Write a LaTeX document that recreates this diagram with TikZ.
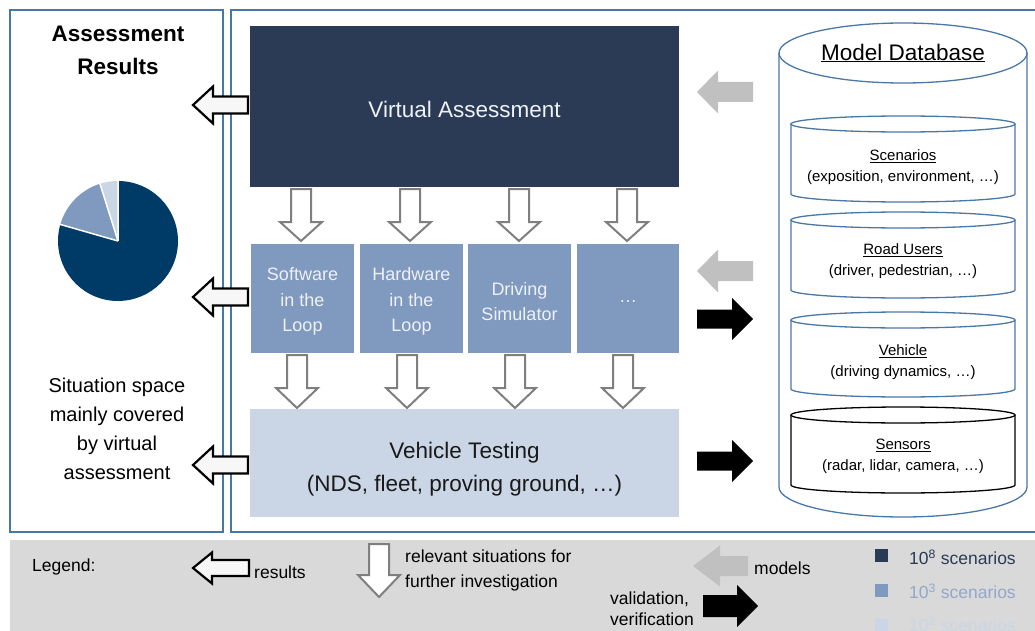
\documentclass[tikz,border=0pt]{standalone}
\usepackage{fontspec}
\setmainfont{Liberation Sans}
\usetikzlibrary{calc}

\definecolor{panelblue}{HTML}{4A78A6}
\definecolor{vadark}{HTML}{2B3B55}
\definecolor{midblue}{HTML}{7F99BF}
\definecolor{lightblue}{HTML}{CAD6E5}
\definecolor{piedark}{HTML}{003A66}
\definecolor{legendgray}{HTML}{D9D9D9}
\definecolor{modelgray}{HTML}{C0C0C0}
\definecolor{flowgray}{HTML}{7F7F7F}
\definecolor{boxtext}{HTML}{EEF1F6}

\newcommand{\fs}[2]{\fontsize{#1}{#2}\selectfont}

\tikzset{
  % block arrow drawn from its tail at (0,0) towards +x:
  % {length}{head length}{shaft width}{head width}
  pics/blockarrow/.style n args={4}{code={
    \path[pic actions] (0,{-#3/2}) -- ({#1-#2},{-#3/2}) -- ({#1-#2},{-#4/2})
      -- (#1,0) -- ({#1-#2},{#4/2}) -- ({#1-#2},{#3/2}) -- (0,{#3/2}) -- cycle;
  }},
  % cylinder: {x radius}{y radius}{distance between the ellipse centres}
  pics/drum/.style n args={3}{code={
    \path[pic actions] (-#1,0) -- (-#1,#3)
      arc[start angle=180, end angle=0, x radius=#1, y radius=#2] -- (#1,0);
    \path[pic actions] (0,0) ellipse[x radius=#1, y radius=#2];
  }},
  resultarrow/.style={draw=black, fill=white!97!black, line width=2.2pt, line join=miter},
  situationarrow/.style={draw=flowgray, fill=white, line width=2pt, line join=miter},
  modelarrow/.style={fill=modelgray},
  checkarrow/.style={fill=black},
  panel/.style={draw=panelblue, line width=1.3pt},
  stagebox/.style={rectangle, inner sep=0pt},
  stagelabel/.style={align=center, inner sep=0pt},
  smallbox/.style={stagebox, fill=midblue, minimum width=103pt, minimum height=109pt},
  boxlabel/.style={stagelabel, text=boxtext, font=\fs{18}{25.5}, yshift=-3pt},
  dbdrum/.style={draw=panelblue, line width=1.3pt},
  dblabel/.style={align=center, font=\fs{15}{21}},
  legendtext/.style={font=\fs{17.5}{25}, inner sep=0pt},
}

\begin{document}
\begin{tikzpicture}[x=1pt, y=-1pt]
\useasboundingbox (0,0) rectangle (1035,631);

% frames
\draw[panel] (10,10) rectangle (223,532);
\draw[panel] (1035,10) -| (231,532) -- (1035,532);
\fill[legendgray] (10,540) rectangle (1035,631);

% results column
\node[align=center, font=\bfseries\fs{22.5}{33}] (restitle) at (118,50.5) {Assessment\\Results};
\coordinate (pie) at (118,241);
\fill[piedark] (pie) -- ++(-164:60) arc[start angle=-164, end angle=-450, radius=60] -- cycle;
\fill[midblue] (pie) -- ++(-107.5:60) arc[start angle=-107.5, end angle=-164, radius=60] -- cycle;
\fill[lightblue] (pie) -- ++(-90:60) arc[start angle=-90, end angle=-107.5, radius=60] -- cycle;
\draw[white, line width=1.5pt] (pie) -- ++(-164:60.5) (pie) -- ++(-107.5:60.5) (pie) -- ++(-90:60.5);
\node[align=center, font=\fs{20}{29}] (restext) at (117,428.5)
  {Situation space\\mainly covered\\by virtual\\assessment};

% assessment stages
\node[stagebox, fill=vadark, minimum width=429pt, minimum height=161pt,
  label={[stagelabel, text=boxtext, font=\fs{22.5}{27}, yshift=-3pt]center:Virtual Assessment}]
  (va) at (464.5,106.5) {};
\node[smallbox, label={[boxlabel]center:{Software\\in the\\Loop}}] (sil) at (302.5,298.5) {};
\node[smallbox, label={[boxlabel]center:{Hardware\\in the\\Loop}}] (hil) at (411.5,298.5) {};
\node[smallbox, label={[boxlabel]center:{Driving\\Simulator}}] (sim) at (519.5,298.5) {};
\node[smallbox, minimum width=102pt, label={[boxlabel]center:{\dots}}] (etc) at (628,298.5) {};
\node[stagebox, fill=lightblue, minimum width=429pt, minimum height=108pt,
  label={[stagelabel, text=black!90, font=\fs{22.5}{33}, yshift=-6.5pt]center:{Vehicle Testing\\(NDS, fleet, proving ground, …)}}]
  (vt) at (464.5,463) {};

% relevant situations passed downwards
\foreach \x in {301,410,519,627}
  \pic[situationarrow, rotate=-90] at (\x,189) {blockarrow={52}{19}{20}{42}};
\foreach \x in {297,407,515,623}
  \pic[situationarrow, rotate=-90] at (\x,355) {blockarrow={53}{20}{20}{42}};

% results passed to the left column
\foreach \y in {105,297,465}
  \pic[resultarrow, rotate=180] at (248,\y) {blockarrow={55}{20}{17}{37}};

% model database
\pic[dbdrum] at (903,53) {drum={124}{30}{434}};
\node[font=\fs{22.5}{27}] (dbtitle) at (903,53) {\underline{Model Database}};
\pic[dbdrum] at (903,124) {drum={112}{8}{70}};
\node[dblabel] (scen) at (903,167) {\underline{Scenarios}\\(exposition, environment, …)};
\pic[dbdrum] at (903,220) {drum={112}{8}{70}};
\node[dblabel] (road) at (903,261) {\underline{Road Users}\\(driver, pedestrian, …)};
\pic[dbdrum] at (903,320) {drum={112}{8}{69}};
\node[dblabel] (veh) at (903,362) {\underline{Vehicle}\\(driving dynamics, …)};
\pic[dbdrum, draw=black] at (903,415) {drum={112}{8}{70}};
\node[dblabel] (sens) at (903,456) {\underline{Sensors}\\(radar, lidar, camera, …)};

% models supplied, results validated
\pic[modelarrow, rotate=180] at (753,92) {blockarrow={56}{21}{20}{43}};
\pic[modelarrow, rotate=180] at (753,271) {blockarrow={56}{21}{20}{43}};
\pic[checkarrow] at (697,319) {blockarrow={56}{21}{19}{42}};
\pic[checkarrow] at (697,461) {blockarrow={56}{21}{19}{42}};

% legend
\node[legendtext, anchor=west] (leg) at (32,567) {Legend:};
\pic[resultarrow, rotate=180] at (249,568) {blockarrow={56}{19}{16}{31}};
\node[legendtext, anchor=west] (legres) at (254,572) {results};
\pic[situationarrow, rotate=-90] at (379,544) {blockarrow={53}{22}{20}{42}};
\node[legendtext, anchor=west, align=left] (legsit) at (405,570.5)
  {relevant situations for\\further investigation};
\pic[modelarrow, rotate=180] at (748,566) {blockarrow={55}{27}{20}{41}};
\node[legendtext, anchor=west] (legmod) at (754,568) {models};
\node[legendtext, anchor=west, align=left, font=\fs{17.5}{21}] (legval) at (610,609)
  {validation,\\verification};
\pic[checkarrow] at (703,606) {blockarrow={55}{21}{22}{42}};

\fill[vadark] (875,549) rectangle (888,562);
\node[legendtext, anchor=west, text=vadark] (l8) at (909,557) {10\textsuperscript{8} scenarios};
\fill[midblue] (875,584) rectangle (888,597);
\node[legendtext, anchor=west, text=midblue!85!white] (l3) at (909,591) {10\textsuperscript{3} scenarios};
\fill[lightblue] (875,619) rectangle (888,632);
\node[legendtext, anchor=west, text=lightblue] (l2) at (909,624) {10\textsuperscript{2} scenarios};
\end{tikzpicture}
\end{document}
